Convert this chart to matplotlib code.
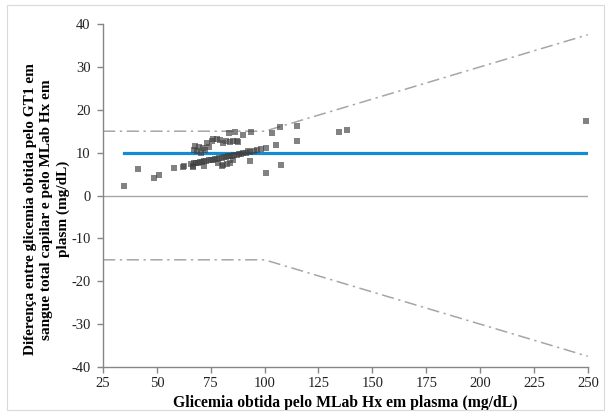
import numpy as np
import matplotlib
matplotlib.use("Agg")
import matplotlib.pyplot as plt
from matplotlib.patches import Rectangle

# plasma glycemia (x) and difference capillary - plasma (y), mg/dL
plasma = [
    34.6, 41.4, 48.8, 51.0, 58.1, 62.3, 66.6, 62.8, 66.7,
    # lower dense band
    66.0, 67.0, 68.0, 69.0, 70.0, 71.0, 72.0, 73.0, 74.0, 75.0,
    76.0, 77.0, 78.0, 79.0, 80.0, 81.0, 82.0, 83.0, 84.0, 85.0,
    86.0, 87.0, 88.0, 89.0, 90.0, 91.5, 93.0, 95.0, 96.6, 98.5,
    # upper band
    67.2, 67.7, 68.5, 69.5, 70.5, 71.5, 72.5, 73.1, 74.0, 75.4,
    76.2, 77.7, 79.3, 80.8, 82.0, 84.0, 85.4, 87.0, 87.8, 92.4,
    # points below the lower band
    72.0, 78.3, 80.0, 80.7, 82.4, 83.9, 85.4, 93.2,
    # upper scattered points
    83.6, 86.2, 90.1, 93.5, 103.2, 107.1, 114.8, 115.1, 134.6, 138.2,
    100.6, 105.2, 100.6, 107.6, 249.0,
]
difference = [
    2.2, 6.1, 4.1, 4.7, 6.5, 6.7, 6.6, 6.8, 6.8,
    7.3, 7.5, 7.6, 7.7, 7.8, 7.9, 8.0, 8.1, 8.2, 8.3,
    8.4, 8.5, 8.6, 8.7, 8.8, 8.9, 9.0, 9.1, 9.2, 9.3,
    9.4, 9.5, 9.6, 9.7, 9.8, 9.9, 10.1, 10.3, 10.7, 10.9,
    10.7, 11.5, 10.3, 11.2, 10.0, 11.1, 10.6, 12.3, 11.4, 12.7,
    13.1, 13.1, 12.9, 12.3, 12.6, 12.5, 12.7, 12.7, 12.4, 10.3,
    7.0, 7.7, 6.8, 7.2, 7.4, 7.6, 8.4, 8.0,
    14.6, 14.8, 14.2, 14.8, 14.6, 16.0, 16.2, 12.7, 14.8, 15.2,
    11.1, 11.7, 5.3, 7.2, 17.3,
]
mean_bias = 9.9
bias_range = [34.6, 249.0]

# acceptance limits: +/-15 mg/dL below 100, +/-15 % above
limit_x = [25, 100, 250]
limit_upper = [15, 15, 37.5]
limit_lower = [-15, -15, -37.5]

plt.rcParams["font.family"] = ["Liberation Serif", "DejaVu Serif"]
plt.rcParams["axes.unicode_minus"] = False

fig = plt.figure(figsize=(6.11, 4.12), dpi=100)
fig.patches.append(Rectangle((0.012, 0.004), 0.976, 0.984, transform=fig.transFigure,
                             fill=False, edgecolor="#d9d9d9", linewidth=0.8))
ax = fig.add_axes([0.1686, 0.1092, 0.7935, 0.8325])

ax.axhline(0, color="#a6a6a6", linewidth=1.0, zorder=1)
ax.plot(limit_x, limit_upper, color="#a6a6a6", linestyle=(0, (8, 3, 1.5, 3)), linewidth=1.1, zorder=1)
ax.plot(limit_x, limit_lower, color="#a6a6a6", linestyle=(0, (8, 3, 1.5, 3)), linewidth=1.1, zorder=1)
ax.plot(bias_range, [mean_bias, mean_bias], color="#148cd4", linewidth=2.3, zorder=2)
ax.plot(plasma, difference, linestyle="none", marker="s", markersize=5,
        color="#404040", alpha=0.65, markeredgewidth=0, zorder=3)

ax.set_xlim(25, 250)
ax.set_ylim(-40, 40)
ax.set_xticks(np.arange(25, 251, 25))
ax.set_yticks(np.arange(-40, 41, 10))

for side in ["top", "right"]:
    ax.spines[side].set_visible(False)
for side in ["left", "bottom"]:
    ax.spines[side].set_color("#868686")
    ax.spines[side].set_linewidth(1.0)
ax.tick_params(axis="both", colors="#868686", labelcolor="#222222", labelsize=10.5,
               length=4.5, width=1.0, direction="out", pad=3)
ax.tick_params(axis="y", pad=4.5)

ax.set_xlabel("Glicemia obtida pelo MLab Hx em plasma (mg/dL)", fontsize=11.3,
              fontweight="bold", labelpad=3)
ax.set_ylabel("Diferença entre glicemia obtida pelo GT1 em\nsangue total capilar e pelo MLab Hx em\nplasm (mg/dL)",
              fontsize=11.0, fontweight="bold", linespacing=1.3)
ax.yaxis.set_label_coords(-0.068, 0.46)

fig.savefig("out.png", dpi=100)
